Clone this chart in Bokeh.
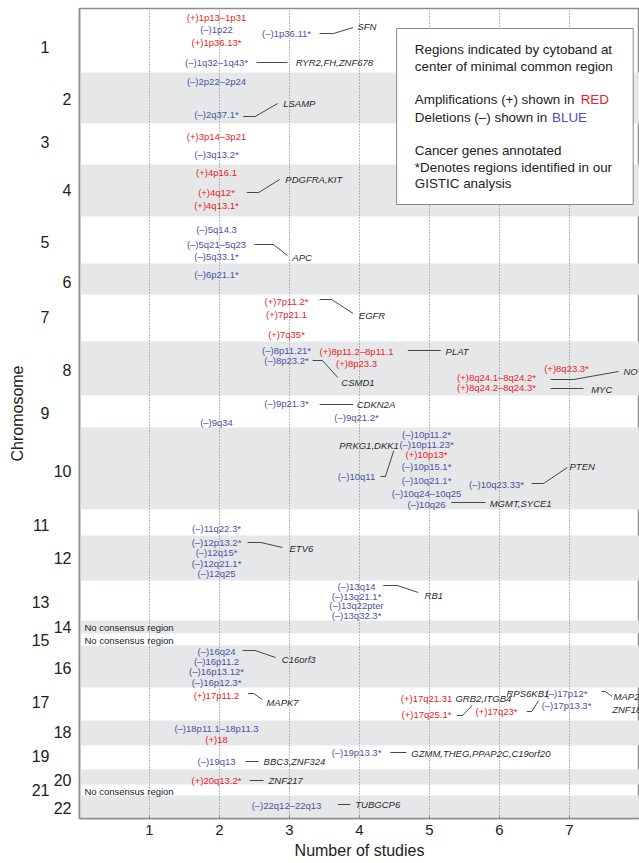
from bokeh.plotting import figure
from bokeh.models import Range1d, FixedTicker, LinearAxis, ColumnDataSource
from bokeh.core.properties import value
from bokeh.embed import file_html
from bokeh.resources import INLINE

FONT = "Liberation Sans"
RED = "#ec2227"
BLUE = "#4a52a6"
GENE = "#2a2a2a"

# ---- data -------------------------------------------------------------
chromosomes = [str(i) for i in range(1, 23)]
# vertical extent (row units, top->bottom) of each chromosome block
band_edges = [8, 72, 123, 164, 216, 263, 294, 341, 395, 427, 509, 535, 580,
              620, 633, 645, 687, 720, 745, 769, 784, 795, 818]
chrom_label_row = [46, 98, 141, 189, 241, 281, 316, 369, 412, 470, 524, 557,
                   601, 626, 639, 667, 701, 731, 755, 779, 789, 807]

region_names = [
    "1p13–1p31", "1p22", "1p36.13*", "1p36.11*", "1q32–1q43*",
    "2p22–2p24", "2q37.1*",
    "3p14–3p21", "3q13.2*",
    "4p16.1", "4q12*", "4q13.1*",
    "5q14.3", "5q21–5q23", "5q33.1*",
    "6p21.1*",
    "7p11.2*", "7p21.1", "7q35*",
    "8p11.21*", "8p23.2*", "8p11.2–8p11.1", "8p23.3", "8q23.3*",
    "8q24.1–8q24.2*", "8q24.2–8q24.3*",
    "9p21.3*", "9q21.2*", "9q34",
    "10p11.2*", "10p11.23*", "10p13*", "10p15.1*", "10q11", "10q21.1*",
    "10q23.33*", "10q24–10q25", "10q26",
    "11q22.3*",
    "12p13.2*", "12q15*", "12q21.1*", "12q25",
    "13q14", "13q21.1*", "13q22pter", "13q32.3*",
    "16q24", "16p11.2", "16p13.12*", "16p12.3*",
    "17p11.2", "17q21.31", "17q25.1*", "17q23*", "17p12*", "17p13.3*",
    "18p11.1–18p11.3", "18",
    "19q13", "19p13.3*",
    "20q13.2*",
    "22q12–22q13",
]
region_studies = [
    2, 2, 2, 3, 2,
    2, 2,
    2, 2,
    2, 2, 2,
    2, 2, 2,
    2,
    3, 3, 3,
    3, 3, 4, 4, 7, 6, 6,
    3, 4, 2,
    5, 5, 5, 5, 4, 5, 6, 5, 5,
    2,
    2, 2, 2, 2,
    4, 4, 4, 4,
    2, 2, 2, 2,
    2, 5, 5, 6, 7, 7,
    2, 2,
    2, 4,
    2,
    3,
]
region_rows = [
    17, 29, 42, 33, 62,
    81, 114,
    136, 154,
    172, 192, 205,
    229, 244, 256,
    274,
    301, 314, 334,
    350, 360, 351, 363, 368, 377, 387,
    403, 417, 422,
    434, 444, 454, 466, 476, 480, 484, 493, 504,
    528,
    542, 552, 563, 573,
    586, 596, 605, 615,
    651, 661, 671, 682,
    695, 698, 714, 711, 693, 705,
    728, 739,
    761, 752,
    780,
    805,
]
region_types = [
    "+", "-", "+", "-", "-",
    "-", "-",
    "+", "-",
    "+", "+", "+",
    "-", "-", "-",
    "-",
    "+", "+", "+",
    "-", "-", "+", "+", "+", "+", "+",
    "-", "-", "-",
    "-", "-", "+", "-", "-", "-", "-", "-", "-",
    "-",
    "-", "-", "-", "-",
    "-", "-", "-", "-",
    "-", "-", "-", "-",
    "+", "+", "+", "+", "-", "-",
    "-", "+",
    "-", "-",
    "+",
    "-",
]

gene_names = ["SFN", "RYR2,FH,ZNF678", "LSAMP", "PDGFRA,KIT", "APC", "EGFR",
              "PLAT", "CSMD1", "NOV", "MYC", "CDKN2A", "PRKG1,DKK1", "PTEN",
              "MGMT,SYCE1", "ETV6", "RB1", "C16orf3", "MAPK7", "GRB2,ITGB4",
              "RPS6KB1", "MAP2K4", "ZNF18", "BBC3,ZNF324",
              "GZMM,THEG,PPAP2C,C19orf20", "ZNF217", "TUBGCP6"]
gene_x = [3.97, 3.09, 2.91, 2.94, 3.04, 3.99, 5.23, 3.74, 7.77, 7.31, 3.96,
          3.71, 7.00, 5.86, 3.00, 4.93, 2.89, 2.67, 5.37, 6.10, 7.63, 7.61,
          2.63, 4.74, 2.70, 3.94]
gene_rows = [26, 62, 103, 179, 257, 315, 351, 382, 371, 389, 404, 445, 466,
             503, 548, 595, 659, 702, 698, 693, 696, 709, 761, 753, 780, 804]

leader_x = [[3.43, 3.63, 3.91], [2.53, 2.97], [2.34, 2.51, 2.83],
            [2.39, 2.56, 2.86], [2.50, 2.77, 2.97], [3.43, 3.60, 3.91],
            [4.69, 5.16], [3.33, 3.47, 3.69], [6.73, 7.06, 7.70],
            [6.73, 7.20], [3.43, 3.91], [4.30, 4.37, 4.49],
            [6.46, 6.63, 6.97], [5.31, 5.80], [2.40, 2.59, 2.90],
            [4.34, 4.54, 4.84], [2.33, 2.51, 2.80], [2.41, 2.49, 2.61],
            [5.39, 5.47, 5.61], [6.39, 6.46, 6.56], [7.46, 7.51, 7.61],
            [2.37, 2.56], [4.44, 4.67], [2.43, 2.63], [3.69, 3.87]]
leader_rows = [[33, 33, 27], [62, 62], [116, 116, 103], [192, 192, 179],
               [244, 244, 255], [299, 299, 313], [350, 350], [360, 360, 377],
               [379, 379, 371], [388, 388], [404, 404], [476, 476, 450],
               [483, 483, 467], [502, 502], [542, 542, 547], [585, 585, 592],
               [650, 650, 657], [693, 693, 699], [715, 715, 705],
               [711, 711, 700], [691, 691, 696], [761, 761], [752, 752],
               [780, 780], [804, 804]]

no_consensus_rows = [627, 640, 791]
study_ticks = [1, 2, 3, 4, 5, 6, 7]

legend_lines = ["Regions indicated by cytoband at",
                "center of minimal common region",
                "Amplifications (+) shown in",
                "Deletions (–) shown in",
                "Cancer genes annotated",
                "*Denotes regions identified in our",
                " GISTIC analysis"]
legend_rows = [49, 66, 99, 117, 150, 167, 183]

# ---- figure -----------------------------------------------------------
p = figure(width=639, height=863, output_backend="svg", toolbar_location=None,
           x_range=Range1d(0, 8), y_range=Range1d(818, 8),
           min_border_left=79, min_border_right=0, min_border_top=8,
           min_border_bottom=45)
p.frame_width = 560
p.frame_height = 810
p.outline_line_color = "#8c8c8c"
p.outline_line_width = 1.5
p.xgrid.visible = False
p.ygrid.visible = False

# chromosome bands
even_top = [band_edges[i] for i in range(1, 22, 2)]
even_bot = [band_edges[i + 1] for i in range(1, 22, 2)]
p.quad(left=0, right=8, top=even_top, bottom=even_bot,
       fill_color="#e6e7e8", line_color=None)

# dotted vertical grid
p.segment(x0=study_ticks, x1=study_ticks, y0=band_edges[-1], y1=band_edges[0],
          line_color="#7a7a7a", line_dash="1 2", line_width=1)

# legend box
p.quad(left=4.53, right=7.91, top=28, bottom=204, fill_color="white",
       line_color="#8a8a8a", line_width=1)
p.text(x=[4.79] * 7, y=legend_rows, text=legend_lines,
       text_font=value(FONT), text_font_size="13.4px", text_color="#222222",
       text_baseline="middle", text_align="left")
p.text(x=[7.16, 6.75], y=[legend_rows[2], legend_rows[3]], text=["RED", "BLUE"],
       text_font=value(FONT), text_font_size="13.4px", text_color=[RED, BLUE],
       text_baseline="middle", text_align="left")

# leader lines
p.multi_line(xs=leader_x, ys=leader_rows, line_color="#333333", line_width=0.9)

# region labels
region_text = [("(+)" if t == "+" else "(–)") + n for n, t in zip(region_names, region_types)]
region_color = [RED if t == "+" else BLUE for t in region_types]
src = ColumnDataSource(dict(x=region_studies, y=region_rows, text=region_text,
                            color=region_color))
p.text(x="x", y="y", text="text", source=src, text_color="color",
       text_font=value(FONT), text_font_size="9.5px", text_align="center",
       text_baseline="middle", x_offset=-3)

# gene labels
p.text(x=gene_x, y=gene_rows, text=gene_names, text_color=GENE,
       text_font=value(FONT), text_font_size="9.5px", text_font_style="italic",
       text_align="left", text_baseline="middle")

# no consensus
p.text(x=[0.07] * 3, y=no_consensus_rows, text=["No consensus region"] * 3,
       text_color="#222222", text_font=value(FONT), text_font_size="9.5px",
       text_align="left", text_baseline="middle")

# axes
xa = p.xaxis[0]
xa.ticker = FixedTicker(ticks=study_ticks)
xa.axis_label = "Number of studies"
xa.axis_label_text_font = FONT
xa.axis_label_text_font_style = "normal"
xa.axis_label_text_font_size = "16px"
xa.axis_label_text_color = "#222222"
xa.axis_label_standoff = 4
xa.major_label_text_font = FONT
xa.major_label_text_font_size = "15px"
xa.major_label_text_color = "#222222"
xa.major_label_standoff = 6
xa.axis_line_color = "#8c8c8c"
xa.axis_line_width = 1.5
xa.major_tick_in = 3
xa.major_tick_out = 0
xa.major_tick_line_color = "#8c8c8c"
xa.minor_tick_line_color = None

# staggered chromosome labels: even numbers on the inner axis, odd on the outer
even_ticks = [chrom_label_row[i] for i in range(1, 22, 2)]
odd_ticks = [chrom_label_row[i] for i in range(0, 22, 2)]
ya = p.yaxis[0]
ya.ticker = FixedTicker(ticks=even_ticks)
ya.major_label_overrides = {chrom_label_row[i]: chromosomes[i] for i in range(1, 22, 2)}
ya.axis_line_color = "#8c8c8c"
ya.axis_line_width = 1.5
ya.major_tick_out = 0
ya.major_tick_in = 0
ya.minor_tick_line_color = None
ya.major_label_standoff = 8
ya.major_label_text_font = FONT
ya.major_label_text_font_size = "16px"
ya.major_label_text_color = "#222222"

yb = LinearAxis(ticker=FixedTicker(ticks=odd_ticks))
yb.major_label_overrides = {chrom_label_row[i]: chromosomes[i] for i in range(0, 22, 2)}
yb.axis_line_color = None
yb.major_tick_line_color = None
yb.minor_tick_line_color = None
yb.major_tick_out = 0
yb.major_tick_in = 0
yb.major_label_standoff = 1
yb.major_label_text_font = FONT
yb.major_label_text_font_size = "16px"
yb.major_label_text_color = "#222222"
yb.axis_label = "Chromosome"
yb.axis_label_text_font = FONT
yb.axis_label_text_font_style = "normal"
yb.axis_label_text_font_size = "16px"
yb.axis_label_text_color = "#222222"
yb.axis_label_standoff = 3
p.add_layout(yb, "left")

open("out.html", "w").write(file_html(p, INLINE))
